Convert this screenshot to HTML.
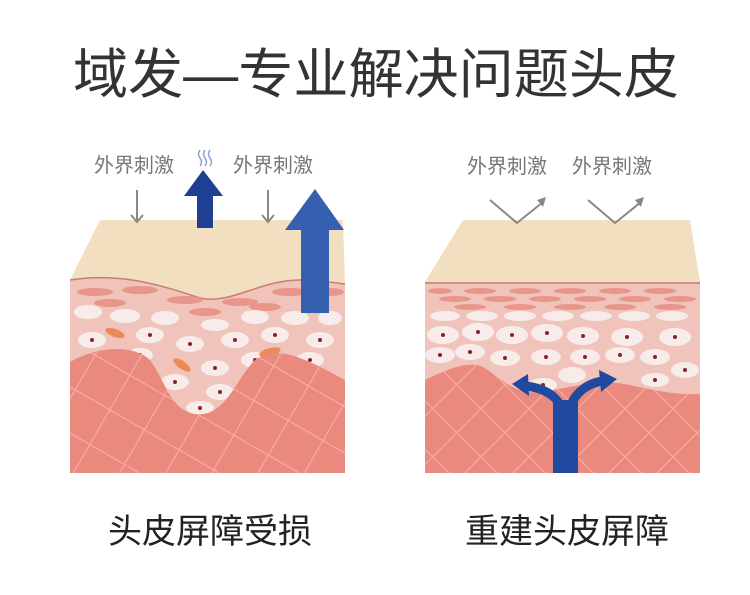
<!DOCTYPE html>
<html><head><meta charset="utf-8"><style>
html,body{margin:0;padding:0;background:#fff;}
svg{display:block;}
text{font-family:"Liberation Sans","Noto Sans CJK SC",sans-serif;}
</style></head><body>
<svg width="750" height="595" viewBox="0 0 750 595" xmlns="http://www.w3.org/2000/svg">
<defs>
<clipPath id="cl"><rect x="70" y="200" width="275" height="273"/></clipPath>
<clipPath id="cr"><rect x="425" y="200" width="275" height="273"/></clipPath>
<pattern id="hatch" width="40" height="40" patternUnits="userSpaceOnUse" patternTransform="rotate(30)">
<path d="M0 20H40M20 0V40" stroke="#f6b2a4" stroke-width="1"/></pattern>
<pattern id="hatch2" width="34" height="34" patternUnits="userSpaceOnUse" patternTransform="rotate(45)">
<path d="M0 17H34M17 0V34" stroke="#f6b2a4" stroke-width="1"/></pattern>
</defs>
<text x="376" y="93" font-size="54" fill="#333" text-anchor="middle" textLength="606" lengthAdjust="spacingAndGlyphs">域发—专业解决问题头皮</text>

<!-- LEFT -->
<g clip-path="url(#cl)">
<path d="M100,220 H343 L345,284 C335,283 320,280 300,280 C260,280 230,305 200,298 C160,285 120,272 70,280 Z" fill="#f2dfbf"/>
<path d="M70,280 C120,272 160,285 200,298 C230,305 260,280 300,280 C320,280 335,283 345,284 V473 H70 Z" fill="#f0c4bb"/>
<path d="M70,280 C120,272 160,285 200,298 C230,305 260,280 300,280 C320,280 335,283 345,284" stroke="#c97c72" stroke-width="1.5" fill="none"/>
<g fill="#e9968a">
<ellipse cx="95" cy="292" rx="18" ry="4"/><ellipse cx="140" cy="290" rx="18" ry="4"/><ellipse cx="185" cy="300" rx="18" ry="4"/>
<ellipse cx="240" cy="302" rx="18" ry="4"/><ellipse cx="290" cy="292" rx="18" ry="4"/><ellipse cx="330" cy="292" rx="14" ry="4"/>
<ellipse cx="110" cy="303" rx="16" ry="4"/><ellipse cx="205" cy="312" rx="16" ry="4"/><ellipse cx="265" cy="307" rx="16" ry="4"/>
</g>
<g fill="#f7ecea">
<ellipse cx="88" cy="312" rx="14" ry="7"/><ellipse cx="125" cy="316" rx="15" ry="7"/><ellipse cx="165" cy="318" rx="14" ry="7"/>
<ellipse cx="215" cy="325" rx="14" ry="6"/><ellipse cx="255" cy="317" rx="14" ry="7"/><ellipse cx="295" cy="318" rx="14" ry="7"/><ellipse cx="330" cy="318" rx="12" ry="7"/>
<ellipse cx="92" cy="340" rx="14" ry="8"/><ellipse cx="150" cy="335" rx="14" ry="8"/><ellipse cx="190" cy="344" rx="14" ry="8"/>
<ellipse cx="235" cy="340" rx="14" ry="8"/><ellipse cx="275" cy="335" rx="14" ry="8"/><ellipse cx="320" cy="340" rx="14" ry="8"/>
<ellipse cx="140" cy="355" rx="13" ry="7"/><ellipse cx="215" cy="368" rx="14" ry="8"/><ellipse cx="255" cy="360" rx="14" ry="8"/>
<ellipse cx="310" cy="360" rx="14" ry="8"/><ellipse cx="175" cy="382" rx="14" ry="8"/><ellipse cx="220" cy="392" rx="14" ry="8"/><ellipse cx="255" cy="388" rx="12" ry="7"/><ellipse cx="200" cy="408" rx="14" ry="7"/>
</g>
<g fill="#8b2130">
<circle cx="92" cy="340" r="2"/><circle cx="150" cy="335" r="2"/><circle cx="190" cy="344" r="2"/><circle cx="235" cy="340" r="2"/><circle cx="275" cy="335" r="2"/><circle cx="320" cy="340" r="2"/>
<circle cx="140" cy="355" r="2"/><circle cx="215" cy="368" r="2"/><circle cx="255" cy="360" r="2"/><circle cx="310" cy="360" r="2"/><circle cx="175" cy="382" r="2"/><circle cx="220" cy="392" r="2"/><circle cx="200" cy="408" r="2"/>
</g>
<g fill="#ec8a55"><ellipse cx="115" cy="333" rx="10" ry="4" transform="rotate(20 115 333)"/><ellipse cx="182" cy="365" rx="10" ry="4" transform="rotate(35 182 365)"/><ellipse cx="270" cy="352" rx="11" ry="4" transform="rotate(-15 270 352)"/></g>
<path d="M70,362 C100,345 135,345 150,360 C165,380 170,410 195,414 C225,418 235,380 255,360 C275,345 300,355 345,380 V473 H70 Z" fill="#ea8a7e"/>
<path d="M70,362 C100,345 135,345 150,360 C165,380 170,410 195,414 C225,418 235,380 255,360 C275,345 300,355 345,380 V473 H70 Z" fill="url(#hatch)"/>
</g>
<text x="134" y="172" font-size="20" fill="#777" text-anchor="middle">外界刺激</text>
<text x="273" y="172" font-size="20" fill="#777" text-anchor="middle">外界刺激</text>
<g stroke="#888" stroke-width="2" fill="none"><path d="M137 190V222M131 215L137 222L143 215"/><path d="M268 190V222M262 215L268 222L274 215"/></g>
<path d="M200 150q-3 4 0 8t0 8M205 150q-3 4 0 8t0 8M210 150q-3 4 0 8t0 8" stroke="#8aa0d0" stroke-width="1.5" fill="none"/>
<polygon points="203,170 223,196 213,196 213,228 197,228 197,196 184,196" fill="#1f3f94"/>
<polygon points="315,189 344,230 329,230 329,313 301,313 301,230 285,230" fill="#3560b0"/>
<text x="210" y="543" font-size="34" fill="#222" text-anchor="middle">头皮屏障受损</text>

<!-- RIGHT -->
<g clip-path="url(#cr)">
<polygon points="463,220 690,220 700,282 425,282" fill="#f2dfbf"/>
<rect x="425" y="282" width="275" height="191" fill="#f0c4bb"/>
<line x1="425" y1="283" x2="700" y2="283" stroke="#c97c72" stroke-width="1.5"/>
<g fill="#e9968a">
<ellipse cx="440" cy="291" rx="12" ry="3"/><ellipse cx="480" cy="291" rx="16" ry="3"/><ellipse cx="525" cy="291" rx="16" ry="3"/><ellipse cx="570" cy="291" rx="16" ry="3"/><ellipse cx="615" cy="291" rx="16" ry="3"/><ellipse cx="660" cy="291" rx="16" ry="3"/>
<ellipse cx="455" cy="299" rx="16" ry="3"/><ellipse cx="500" cy="299" rx="16" ry="3"/><ellipse cx="545" cy="299" rx="16" ry="3"/><ellipse cx="590" cy="299" rx="16" ry="3"/><ellipse cx="635" cy="299" rx="16" ry="3"/><ellipse cx="680" cy="299" rx="16" ry="3"/>
<ellipse cx="470" cy="307" rx="16" ry="3"/><ellipse cx="520" cy="307" rx="16" ry="3"/><ellipse cx="570" cy="307" rx="16" ry="3"/><ellipse cx="620" cy="307" rx="16" ry="3"/><ellipse cx="670" cy="307" rx="16" ry="3"/>
</g>
<g fill="#f7ecea">
<ellipse cx="445" cy="316" rx="15" ry="5"/><ellipse cx="482" cy="316" rx="16" ry="5"/><ellipse cx="520" cy="316" rx="16" ry="5"/><ellipse cx="558" cy="316" rx="16" ry="5"/><ellipse cx="596" cy="316" rx="16" ry="5"/><ellipse cx="634" cy="316" rx="16" ry="5"/><ellipse cx="672" cy="316" rx="16" ry="5"/>
<ellipse cx="443" cy="335" rx="16" ry="9"/><ellipse cx="478" cy="332" rx="16" ry="9"/><ellipse cx="512" cy="335" rx="16" ry="9"/><ellipse cx="547" cy="333" rx="16" ry="9"/><ellipse cx="583" cy="336" rx="16" ry="9"/><ellipse cx="627" cy="337" rx="16" ry="9"/><ellipse cx="675" cy="337" rx="16" ry="9"/>
<ellipse cx="440" cy="355" rx="15" ry="8"/><ellipse cx="470" cy="352" rx="15" ry="8"/><ellipse cx="505" cy="358" rx="15" ry="8"/><ellipse cx="546" cy="357" rx="15" ry="8"/><ellipse cx="585" cy="357" rx="15" ry="8"/><ellipse cx="620" cy="355" rx="15" ry="8"/><ellipse cx="655" cy="357" rx="15" ry="8"/><ellipse cx="685" cy="370" rx="14" ry="8"/>
<ellipse cx="572" cy="375" rx="14" ry="8"/><ellipse cx="655" cy="380" rx="14" ry="7"/><ellipse cx="543" cy="385" rx="14" ry="7"/>
</g>
<g fill="#8b2130">
<circle cx="443" cy="335" r="2"/><circle cx="478" cy="332" r="2"/><circle cx="512" cy="335" r="2"/><circle cx="547" cy="333" r="2"/><circle cx="583" cy="336" r="2"/><circle cx="627" cy="337" r="2"/><circle cx="675" cy="337" r="2"/>
<circle cx="440" cy="355" r="2"/><circle cx="470" cy="352" r="2"/><circle cx="505" cy="358" r="2"/><circle cx="546" cy="357" r="2"/><circle cx="585" cy="357" r="2"/><circle cx="620" cy="355" r="2"/><circle cx="655" cy="357" r="2"/><circle cx="685" cy="370" r="2"/><circle cx="655" cy="380" r="2"/><circle cx="543" cy="385" r="2"/>
</g>
<path d="M425,380 C450,368 470,360 485,368 C500,378 515,395 540,392 C570,388 600,378 630,385 C660,392 680,395 700,394 V473 H425 Z" fill="#ea8a7e"/>
<path d="M425,380 C450,368 470,360 485,368 C500,378 515,395 540,392 C570,388 600,378 630,385 C660,392 680,395 700,394 V473 H425 Z" fill="url(#hatch2)"/>
<g fill="none" stroke="#1f4aa0" stroke-width="9">
<path d="M560 405C555 395 543 388 526 386"/>
<path d="M571 405C576 392 588 383 603 381"/>
</g>
<polygon points="512,384 528,374 529,396" fill="#1f4aa0"/>
<polygon points="617,379 599,370 601,392" fill="#1f4aa0"/>
<rect x="553" y="400" width="25" height="73" fill="#1f4aa0"/>
</g>
<text x="507" y="173" font-size="20" fill="#777" text-anchor="middle">外界刺激</text>
<text x="612" y="173" font-size="20" fill="#777" text-anchor="middle">外界刺激</text>
<g stroke="#888" stroke-width="2" fill="none"><path d="M490 200L517 223L543 202"/><path d="M588 200L615 223L641 202"/></g>
<polygon points="546,197 537,200 543,207" fill="#888"/><polygon points="644,197 635,200 641,207" fill="#888"/>
<text x="567" y="543" font-size="34" fill="#222" text-anchor="middle">重建头皮屏障</text>
</svg>
</body></html>
